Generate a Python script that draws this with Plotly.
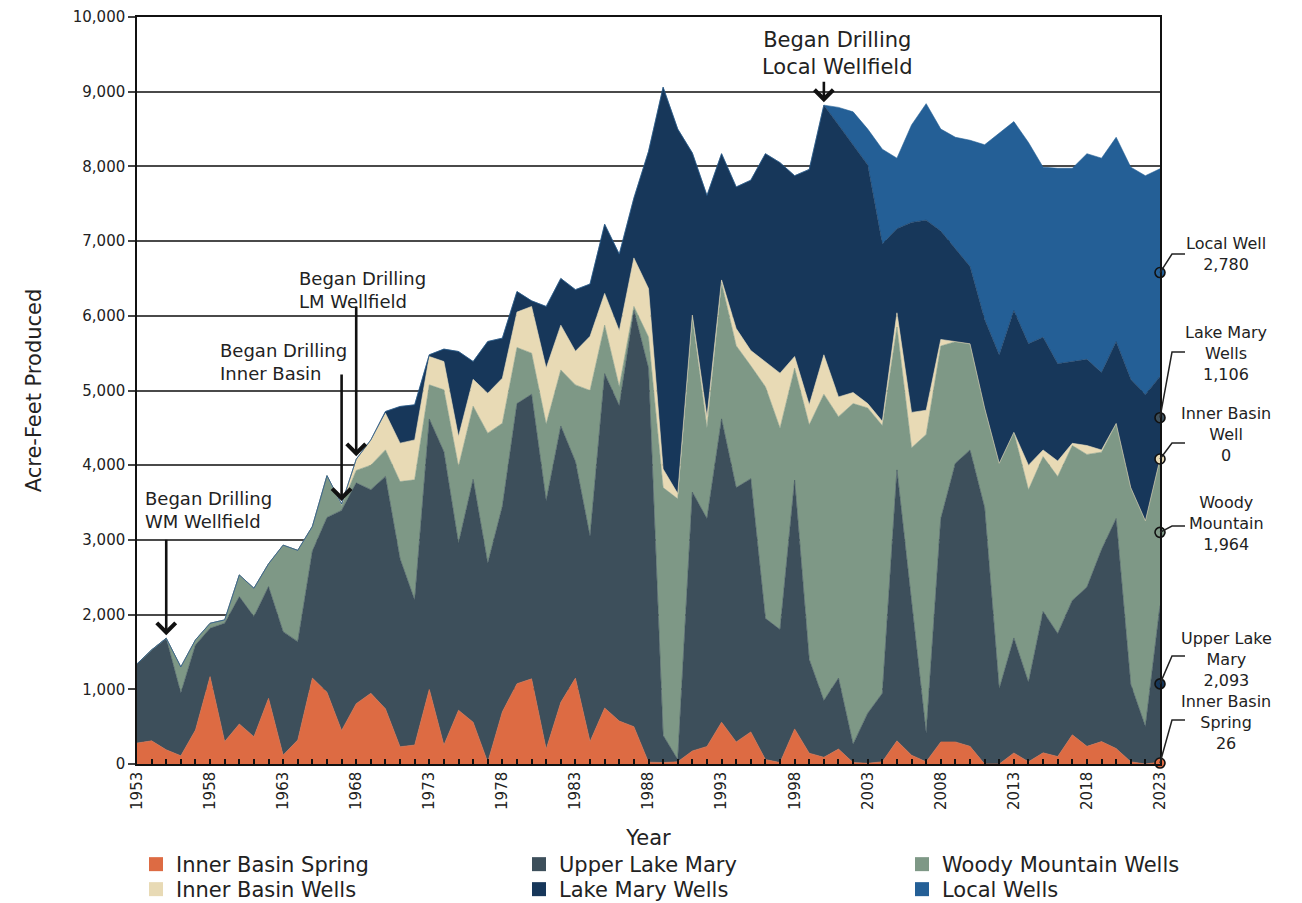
import numpy as np
import plotly.graph_objects as go

years = list(range(1953, 2024))

inner_basin_spring = [
    280, 310, 190, 110, 455, 1170, 300, 536, 366, 880,
    120, 321, 1150, 960, 450, 808, 947, 739, 231, 254,
    1000, 254, 720, 560, 25, 700, 1075, 1140, 200, 825,
    1150, 300, 750, 575, 500, 25, 20, 30, 175, 235,
    560, 295, 430, 60, 20, 470, 145, 90, 200, 20,
    10, 30, 310, 118, 30, 296, 296, 236, 0, 0,
    148, 30, 150, 100, 390, 236, 300, 207, 30, 0,
    26]
upper_lake_mary = [
    1060, 1217, 1493, 840, 1139, 647, 1584, 1705, 1607, 1495,
    1652, 1317, 1700, 2340, 2945, 2956, 2725, 3111, 2517, 1942,
    3619, 3926, 2235, 3251, 2662, 2750, 3750, 3810, 3325, 3700,
    2900, 2750, 4475, 4225, 5575, 5275, 365, 30, 3465, 3050,
    4060, 3405, 3390, 1890, 1780, 3330, 1255, 760, 950, 246,
    670, 917, 3627, 2042, 384, 2990, 3730, 3968, 3434, 1006,
    1539, 1065, 1892, 1647, 1800, 2132, 2571, 3079, 1036, 503,
    2093]
woody_mountain = [
    0, 0, 0, 350, 67, 67, 45, 290, 380, 305,
    1158, 1222, 330, 560, 65, 166, 328, 355, 1033, 1608,
    457, 829, 1027, 979, 1742, 1112, 750, 550, 1025, 750,
    1025, 1950, 650, 250, 50, 415, 3315, 3490, 2340, 1215,
    1820, 1900, 1510, 3100, 2696, 1499, 3140, 4100, 3500, 4559,
    4086, 3583, 1913, 2073, 3997, 2309, 1628, 1421, 1332, 3020,
    2753, 2575, 2073, 2101, 2073, 1776, 1303, 1273, 2634, 2753,
    1964]
inner_basin_wells = [
    0, 0, 0, 0, 0, 0, 0, 0, 0, 0,
    0, 0, 0, 0, 20, 150, 339, 491, 514, 535,
    379, 379, 402, 360, 535, 603, 475, 625, 750, 600,
    450, 725, 425, 750, 650, 650, 250, 70, 30, 150,
    40, 230, 205, 338, 736, 156, 268, 528, 264, 148,
    59, 58, 190, 474, 325, 89, 0, 0, 0, 0,
    0, 330, 89, 208, 30, 119, 30, 0, 0, 0,
    0]
lake_mary_wells = [
    0, 0, 0, 0, 0, 0, 0, 0, 0, 0,
    0, 0, 0, 0, 0, 0, 0, 23, 491, 469,
    23, 166, 1138, 238, 692, 536, 275, 75, 825, 625,
    825, 700, 925, 1025, 800, 1835, 5110, 4880, 2170, 2960,
    1690, 1895, 2280, 2782, 2818, 2420, 3152, 3342, 3641, 3317,
    3195, 2372, 1125, 2543, 2544, 1451, 1246, 1035, 1184, 1450,
    1629, 1625, 1509, 1302, 1095, 1154, 1036, 1095, 1450, 1688,
    1106]
local_wells = [
    0, 0, 0, 0, 0, 0, 0, 0, 0, 0,
    0, 0, 0, 0, 0, 0, 0, 0, 0, 0,
    0, 0, 0, 0, 0, 0, 0, 0, 0, 0,
    0, 0, 0, 0, 0, 0, 0, 0, 0, 0,
    0, 0, 0, 0, 0, 0, 0, 0, 235, 440,
    480, 1270, 945, 1305, 1560, 1365, 1490, 1690, 2340, 2964,
    2531, 2695, 2277, 2617, 2587, 2753, 2870, 2736, 2840, 2931,
    2780]

series_names = ["Inner Basin Spring", "Upper Lake Mary", "Woody Mountain Wells",
                "Inner Basin Wells", "Lake Mary Wells", "Local Wells"]
series = [inner_basin_spring, upper_lake_mary, woody_mountain,
          inner_basin_wells, lake_mary_wells, local_wells]
colors = ["#DD6B43", "#3D4F5B", "#7E9886", "#E8DAB5", "#17375A", "#245F96"]

end_label_names = ["Inner Basin<br>Spring", "Upper Lake<br>Mary", "Woody<br>Mountain",
                   "Inner Basin<br>Well", "Lake Mary<br>Wells", "Local Well"]
end_marker_colors = ["#DD6B43", "#17375A", "#7E9886", "#E8DAB5", "#3D4F5B", "#245F96"]

events = [(1955, "Began Drilling<br>WM Wellfield"),
          (1967, "Began Drilling<br>Inner Basin"),
          (1968, "Began Drilling<br>LM Wellfield"),
          (2000, "Began Drilling<br>Local Wellfield")]

FONT = "DejaVu Sans"
TXT = "#222222"

# page is drawn with an 8px body offset; work in page pixels and convert
OFF = 8
FIG_W, FIG_H = 1302 - OFF, 903 - OFF
PLOT_T, PLOT_B, PLOT_L, PLOT_R = 17, 764, 137, 1160   # page pixels
PH = PLOT_B - PLOT_T
PW = PLOT_R - PLOT_L


def py(ypix):
    return (PLOT_B - ypix) / PH


def px(xpix):
    return (xpix - PLOT_L) / PW


fig = go.Figure()
for name, vals, col in zip(series_names, series, colors):
    fig.add_trace(go.Scatter(
        x=years, y=vals, name=name, stackgroup="one", mode="lines",
        line=dict(width=0.6, color=col), fillcolor=col,
        showlegend=False, hoverinfo="skip"))

# legend-only square swatches (two rows = two legends)
for i, (name, col) in enumerate(zip(series_names, colors)):
    fig.add_trace(go.Scatter(
        x=[None], y=[None], mode="markers", name=name,
        legend="legend" if i < 3 else "legend2",
        marker=dict(symbol="square", size=14, color=col, line=dict(width=0)),
        showlegend=True))

# end-of-series markers at band midpoints
last_vals = np.array([s[-1] for s in series], dtype=float)
upper = np.cumsum(last_vals)
lower = upper - last_vals
mids = (upper + lower) / 2.0
fig.add_trace(go.Scatter(
    x=[years[-1]] * len(mids), y=mids, mode="markers", showlegend=False,
    cliponaxis=False, hoverinfo="skip",
    marker=dict(size=10, color=end_marker_colors, line=dict(color="#111111", width=1.6))))

totals = np.sum(np.array(series, dtype=float), axis=0)

annotations = []
shapes = []

# right-side labels with elbow leaders
label_centers = [722, 659, 523, 434.5, 353, 254.5]
elbow_ys = [720, 656, 526, 443, 352, 254]
for i in range(len(series)):
    txt = f"{end_label_names[i]}<br>{int(last_vals[i]):,}"
    annotations.append(dict(
        xref="paper", yref="paper", x=px(1226), y=py(label_centers[i]),
        xanchor="center", yanchor="middle", align="center", showarrow=False,
        text=txt, font=dict(family=FONT, size=16, color=TXT)))
    my = mids[i] / 10000.0
    ey = py(elbow_ys[i])
    shapes.append(dict(
        type="path", xref="paper", yref="paper",
        path=f"M 1,{my} L {px(1172)},{ey} L {px(1185)},{ey}",
        line=dict(color="#222222", width=1.5)))

# event arrows and text
arrow_len = {1955: 100, 1967: 131, 1968: 154, 2000: 25}
text_pos = {1955: (143, 510, "left", 18),
            1967: (218, 362, "left", 18),
            1968: (297, 290, "left", 18),
            2000: (837, 53, "center", 21)}
for yr, txt in events:
    idx = years.index(yr)
    annotations.append(dict(
        x=yr, y=totals[idx], xref="x", yref="y", ax=0, ay=-arrow_len[yr],
        showarrow=True, arrowhead=4, arrowsize=1.4, arrowwidth=2.6,
        arrowcolor="#111111", standoff=3, text=""))
    xp, ypix, anc, fs = text_pos[yr]
    annotations.append(dict(
        xref="paper", yref="paper", x=px(xp), y=py(ypix), xanchor=anc,
        yanchor="middle", align=anc, showarrow=False, text=txt,
        font=dict(family=FONT, size=fs, color=TXT)))

legend_common = dict(orientation="h", xanchor="left", yanchor="top",
                     entrywidth=338, font=dict(family=FONT, size=21, color=TXT),
                     traceorder="normal", bgcolor="rgba(0,0,0,0)")

fig.update_layout(
    width=FIG_W, height=FIG_H,
    margin=dict(l=PLOT_L - OFF, r=FIG_W - (PLOT_R - OFF), t=PLOT_T - OFF,
                b=FIG_H - (PLOT_B - OFF), autoexpand=False),
    paper_bgcolor="white", plot_bgcolor="white",
    font=dict(family=FONT, color=TXT),
    showlegend=True,
    legend=dict(x=px(136), y=py(844), **legend_common),
    legend2=dict(x=px(136), y=py(869), **legend_common),
    annotations=annotations, shapes=shapes,
)
fig.update_xaxes(
    range=[1953, 2023], tick0=1953, dtick=5, tickangle=-90,
    ticks="inside", ticklen=5, tickwidth=1.5, tickcolor="#111111",
    minor=dict(dtick=1, ticks="inside", ticklen=5, tickwidth=1.5, tickcolor="#111111", showgrid=False),
    showgrid=False, showline=True, linecolor="#111111", linewidth=1.5, mirror=True,
    tickfont=dict(family=FONT, size=15, color=TXT),
    title=dict(text="Year", font=dict(family=FONT, size=21, color=TXT), standoff=21),
    zeroline=False)
fig.update_yaxes(
    range=[0, 10000], dtick=1000, tickformat=",d",
    ticks="outside", ticklen=7, tickwidth=1.5, tickcolor="#444444",
    showgrid=True, gridcolor="#4a4a4a", gridwidth=1.6,
    showline=True, linecolor="#111111", linewidth=1.5, mirror=True,
    tickfont=dict(family=FONT, size=15, color=TXT),
    title=dict(text="Acre-Feet Produced", font=dict(family=FONT, size=21, color=TXT), standoff=25),
    zeroline=False)

fig.write_html("out.html")
